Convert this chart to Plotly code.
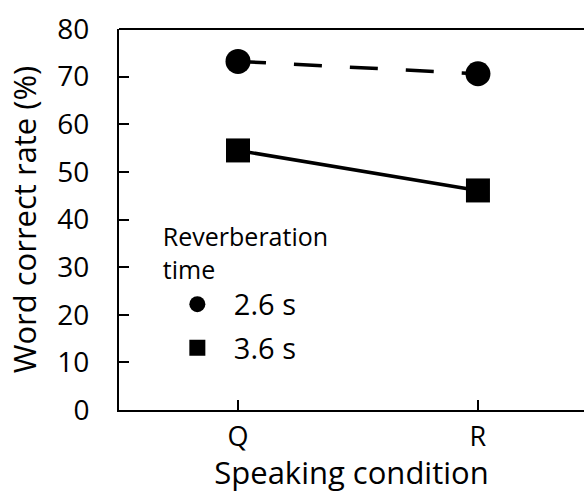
import plotly.graph_objects as go

conditions = ["Q", "R"]
rt_26 = [73.2, 70.6]
rt_36 = [54.5, 46.1]
series_names = ["2.6 s", "3.6 s"]
y_ticks = [0, 10, 20, 30, 40, 50, 60, 70, 80]

FONT = "Open Sans"
x_idx = list(range(len(conditions)))

fig = go.Figure()
fig.add_trace(go.Scatter(x=x_idx, y=rt_26, mode="lines+markers", showlegend=False,
                         line=dict(color="black", width=3.5, dash="28px,28px"),
                         marker=dict(symbol="circle", size=25, color="black")))
fig.add_trace(go.Scatter(x=x_idx, y=rt_36, mode="lines+markers", showlegend=False,
                         line=dict(color="black", width=3.5),
                         marker=dict(symbol="square", size=24, color="black")))
# legend entries (markers only)
fig.add_trace(go.Scatter(x=[None], y=[None], mode="markers", name=series_names[0],
                         legendgroup="a",
                         marker=dict(symbol="circle", size=25, color="black")))
fig.add_trace(go.Scatter(x=[None], y=[None], mode="markers", name=series_names[1],
                         legendgroup="b",
                         marker=dict(symbol="square", size=22, color="black")))

fig.update_layout(
    width=584, height=493,
    margin=dict(l=119, r=0, t=29, b=83, autoexpand=False),
    paper_bgcolor="white", plot_bgcolor="white",
    font=dict(family=FONT, color="black", size=28),
    xaxis=dict(range=[-0.496, 1.442], tickvals=x_idx, ticktext=conditions,
               ticks="inside", ticklen=10, tickwidth=2, tickcolor="black",
               showline=True, linecolor="black", linewidth=2,
               showgrid=False, zeroline=False, automargin=False,
               ticklabelstandoff=2,
               title=dict(text="Speaking condition", font=dict(size=31), standoff=5),
               tickfont=dict(size=27)),
    yaxis=dict(range=[0, 80], tickvals=y_ticks,
               ticks="inside", ticklen=10, tickwidth=2, tickcolor="black",
               showline=True, linecolor="black", linewidth=2,
               showgrid=False, zeroline=False, ticklabelstandoff=22, automargin=False,
               title=dict(text="Word correct rate (%)", font=dict(size=31), standoff=12),
               tickfont=dict(size=28)),
    legend=dict(x=0.09, y=0.515, xanchor="left", yanchor="top",
                bgcolor="rgba(0,0,0,0)", traceorder="grouped", tracegroupgap=3,
                itemwidth=63,
                title=dict(text="Reverberation<br>time", font=dict(size=25)),
                font=dict(size=29), itemsizing="trace"),
    shapes=[dict(type="line", xref="paper", yref="paper", x0=0, x1=1, y0=1, y1=1,
                 line=dict(color="black", width=2))],
)

fig.write_html("out.html", config={"displayModeBar": False},
               post_script="document.body.style.margin='0';document.body.style.overflow='hidden';")
